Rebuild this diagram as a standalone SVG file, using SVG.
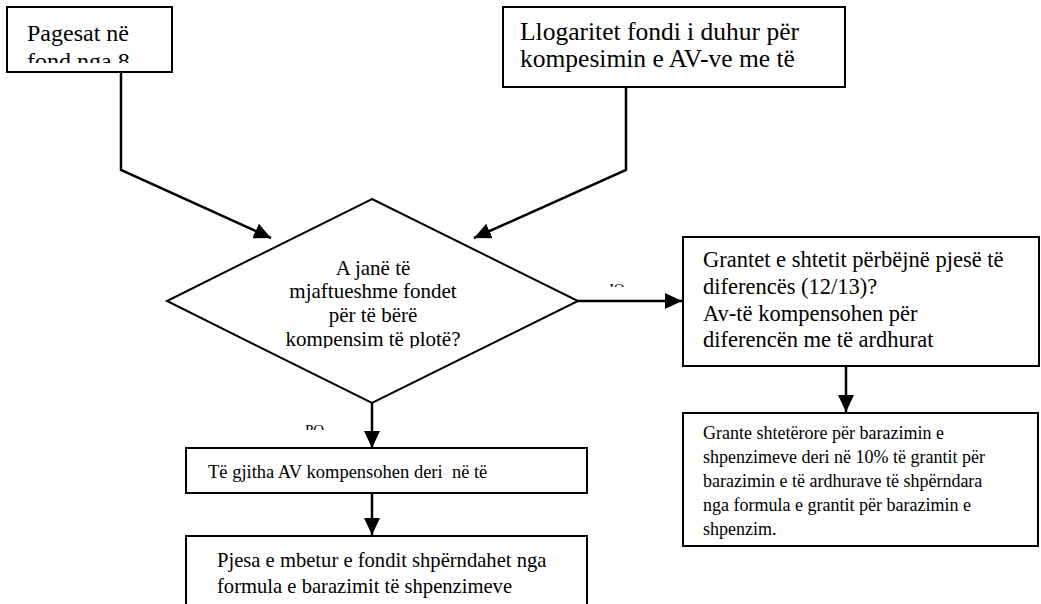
<svg xmlns="http://www.w3.org/2000/svg" width="1041" height="604" viewBox="0 0 1041 604">
<style>
  .box { fill: #fff; stroke: #000; stroke-width: 2; }
  .conn { fill: none; stroke: #000; stroke-width: 2.5; }
  text { font-family: "Liberation Serif", "Times New Roman", serif; fill: #000; }
</style>
<defs>
  <marker id="arr" markerUnits="userSpaceOnUse" markerWidth="18" markerHeight="16" refX="17" refY="8" orient="auto">
    <path d="M0,0 L17,8 L0,16 z" fill="#000"/>
  </marker>
  <clipPath id="c1"><rect x="7" y="7" width="165" height="56"/></clipPath>
  <clipPath id="c2"><rect x="503" y="7" width="342" height="66"/></clipPath>
  <clipPath id="c3"><rect x="160" y="200" width="430" height="148"/></clipPath>
  <clipPath id="cjo"><rect x="590" y="270" width="60" height="17"/></clipPath>
  <clipPath id="cpo"><rect x="290" y="410" width="60" height="20"/></clipPath>
  <clipPath id="cmid"><rect x="186" y="448" width="401" height="45"/></clipPath>
</defs>

<g id="connectors">
  <polyline class="conn" points="121,72 121,170 271,238" marker-end="url(#arr)"/>
  <polyline class="conn" points="626,87 626,170 474,238" marker-end="url(#arr)"/>
  <line class="conn" x1="578" y1="301" x2="682" y2="301" marker-end="url(#arr)"/>
  <line class="conn" x1="372" y1="403" x2="372" y2="448" marker-end="url(#arr)"/>
  <line class="conn" x1="372" y1="493" x2="372" y2="535" marker-end="url(#arr)"/>
  <line class="conn" x1="846" y1="366" x2="846" y2="412" marker-end="url(#arr)"/>
  <g id="label-jo" clip-path="url(#cjo)"><text x="608" y="294" font-size="15">JO</text></g>
  <g id="label-po" clip-path="url(#cpo)"><text x="305" y="435" font-size="15">PO</text></g>
</g>

<g id="node-pagesat">
  <rect class="box" x="7" y="7" width="165" height="65"/>
  <g clip-path="url(#c1)">
    <text x="27" y="41" font-size="24">Pagesat në</text>
    <text x="27" y="69" font-size="24">fond nga 8</text>
  </g>
</g>

<g id="node-llogaritet">
  <rect class="box" x="503" y="7" width="342" height="80"/>
  <g clip-path="url(#c2)">
    <text x="520" y="40" font-size="25.5">Llogaritet fondi i duhur për</text>
    <text x="520" y="67" font-size="25.5">kompesimin e AV-ve me të</text>
  </g>
</g>

<g id="node-decision">
  <polygon class="box" points="372,199 578,301 372,403 167,301"/>
  <g clip-path="url(#c3)" text-anchor="middle">
    <text x="373" y="275" font-size="21">A janë të</text>
    <text x="373" y="298" font-size="21">mjaftueshme fondet</text>
    <text x="373" y="322" font-size="21">për të bërë</text>
    <text x="373" y="346" font-size="21">kompensim të plotë?</text>
  </g>
</g>

<g id="node-grantet">
  <rect class="box" x="683" y="237" width="356" height="129"/>
  <text x="703" y="267" font-size="22.5">Grantet e shtetit përbëjnë pjesë të</text>
  <text x="703" y="294" font-size="22.5">diferencës (12/13)?</text>
  <text x="703" y="321" font-size="22.5">Av-të kompensohen për</text>
  <text x="703" y="347" font-size="22.5">diferencën me të ardhurat</text>
</g>

<g id="node-grante-shteterore">
  <rect class="box" x="683" y="413" width="355" height="133"/>
  <text x="703" y="439" font-size="18">Grante shtetërore për barazimin e</text>
  <text x="703" y="463" font-size="18">shpenzimeve deri në 10% të grantit për</text>
  <text x="703" y="487" font-size="18">barazimin e të ardhurave të shpërndara</text>
  <text x="703" y="511" font-size="18">nga formula e grantit për barazimin e</text>
  <text x="703" y="535" font-size="18">shpenzim.</text>
</g>

<g id="node-te-gjitha">
  <rect class="box" x="186" y="448" width="401" height="45"/>
  <g clip-path="url(#cmid)">
    <text x="208" y="478" font-size="18.5" xml:space="preserve" style="white-space:pre">Të gjitha AV kompensohen deri  në të</text>
  </g>
</g>

<g id="node-pjesa">
  <rect class="box" x="186" y="536" width="401" height="90"/>
  <text x="217" y="567" font-size="20.6">Pjesa e mbetur e fondit shpërndahet nga</text>
  <text x="217" y="593" font-size="20.6">formula e barazimit të shpenzimeve</text>
</g>
</svg>
